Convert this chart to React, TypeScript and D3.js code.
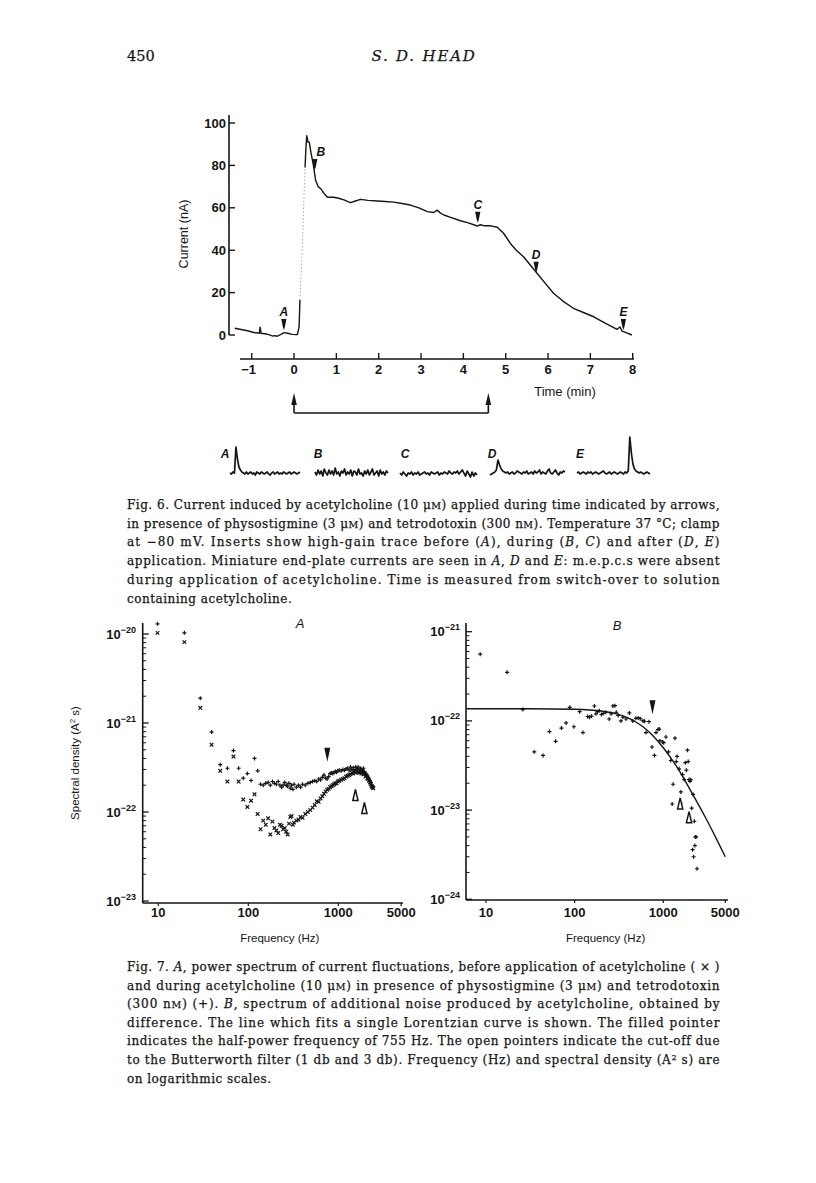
import React, { useEffect, useRef } from 'react';
import * as d3 from 'd3';

// ---------- Fig. 6: current trace ----------
const traceTime = [
  -1.40, -1.25, -1.10, -0.95, -0.82, -0.80, -0.78, -0.65, -0.50, -0.45,
  -0.40, -0.30, -0.24, -0.15, -0.05, 0.08, 0.12, 0.14, 0.17, 0.20,
  0.23, 0.26, 0.28, 0.30, 0.33, 0.36, 0.40, 0.45, 0.51, 0.57,
  0.63, 0.70, 0.79, 0.87, 0.94, 1.05, 1.18, 1.26, 1.34, 1.45,
  1.57, 1.75, 1.97, 2.15, 2.36, 2.55, 2.75, 2.95, 3.15, 3.30,
  3.38, 3.46, 3.54, 3.70, 3.93, 4.10, 4.33, 4.40, 4.50, 4.65,
  4.80, 4.95, 5.11, 5.25, 5.42, 5.58, 5.74, 5.95, 6.13, 6.35,
  6.60, 6.85, 7.08, 7.35, 7.63, 7.70, 7.75, 7.80, 7.98,
];
const traceCurrent = [
  3.2, 2.6, 2.0, 1.2, 0.8, 3.8, 0.8, 0.5, -0.5, -0.3,
  -0.6, 0.4, 1.1, 0.8, 0.3, 0.2, 4, 16.5, 30, 43,
  62, 79, 88, 94, 91, 91, 86, 81, 73, 70,
  69, 67, 65, 65, 65, 64.5, 63.7, 63, 62.4, 63.2,
  64, 63.5, 63.2, 63, 62.7, 62, 61.3, 60, 58.2, 57.8,
  58.9, 57.5, 56.6, 55.5, 53.9, 53, 51.4, 52, 51.5, 51.5,
  50.8, 48, 43.2, 40, 36.9, 33, 29.1, 24, 19.7, 16,
  12.6, 10.5, 8.6, 5.6, 2.7, 3.8, 1.8, 1.5, 0,
];
const markerLabels = ['A', 'B', 'C', 'D', 'E'];
const markerTime = [-0.24, 0.49, 4.34, 5.72, 7.78];
const markerCurrent = [2.4, 77.8, 53, 29.4, 2.4];
const currentTicks = [0, 20, 40, 60, 80, 100];
const timeTicks = [-1, 0, 1, 2, 3, 4, 5, 6, 7, 8];
const applicationTimes = [0, 4.59];

// high-gain inserts (arbitrary units)
const insertLabels = ['A', 'B', 'C', 'D', 'E'];
const insertA = [0, -1, 1, 0, 26, 14, 6, 3, 1, 0, -1, 1, -1, 0, 1, -1, 0, -2, 1, 0, -1, 1, 0, -1, 0, 1, -1, -2, 0, 1, -1, 0, 1, -1, 0, -1, 1, 0, -1, 0, 1, -1, 0, 1, 0, -1, 0, 1];
const insertB = [1, -2, 3, -1, 2, -3, 4, 0, -2, 3, -1, 2, -2, 5, -1, 1, -3, 2, 0, 4, -2, 1, -1, 3, -3, 2, 1, -2, 4, -1, 0, -3, 2, -1, 3, -2, 1, 4, -2, 0, 2, -3, 3, -1, 1, -2, 2, 0];
const insertC = [0, -2, 1, -1, -3, 0, -1, 1, -2, 0, -1, 1, -2, -1, 0, 1, -1, 0, -2, 1, 0, -1, 0, 1, -2, 0, -1, 1, 0, -1, 2, 0, -1, 1, 0, 2, -1, 1, 3, 0, -3, 2, -1, -4, 1, -3, 0, -2];
const insertD = [-2, -1, 0, 1, 3, 13, 8, 4, 2, 1, 0, 1, -1, 0, 1, -1, 0, 2, 1, 0, -1, 1, 0, 2, -1, 0, 1, -1, 2, 0, 1, 3, -1, 1, 0, -1, 2, 4, 0, -1, 1, 3, 0, -2, 1, 0, 2, 1];
const insertE = [0, 1, -1, 0, 1, 0, -1, 1, 0, 1, -1, 0, 1, 0, -1, 0, 1, 2, 0, -1, 0, 1, -1, 0, 1, 0, -1, 0, 1, 0, -1, 1, 0, 2, 36, 20, 9, 4, 2, 1, 0, 1, 0, -1, 0, 1, 0, -1];

// ---------- Fig. 7A: power spectra (x 1e-22 A^2 s) ----------
const freqA = [
  9.8, 19.5, 29.3, 39.1, 48.8, 58.6, 68.4, 78.1, 87.9, 97.7,
  107.4, 117.2, 127.0, 136.7, 146.5, 156.3, 166.0, 175.8, 185.5, 195.3,
  205.1, 214.8, 224.6, 234.4, 244.1, 253.9, 263.7, 273.4, 283.2, 293.0,
  302.7, 312.5, 322.3, 341.8, 361.3, 380.9, 400.4, 429.7, 458.9, 488.3,
  517.6, 546.9, 576.2, 605.5, 634.8, 664.1, 693.4, 722.7, 752.0, 781.3,
  810.5, 839.8, 869.1, 898.4, 927.7, 957.0, 986.3, 1025, 1074, 1123,
  1172, 1221, 1270, 1318, 1367, 1416, 1465, 1514, 1562, 1611,
  1660, 1709, 1758, 1807, 1855, 1904, 1953, 2002, 2051, 2100,
  2148, 2197, 2246, 2295, 2344, 2393, 2441,
];
const plusA = [
  130, 103, 19, 7.9, 3.4, 3.1, 4.9, 3.1, 2.4, 2.7,
  2.26, 4.0, 2.9, 2.05, 2.0, 2.1, 2.15, 2.0, 2.2, 2.1,
  2.05, 2.2, 2.0, 1.9, 2.0, 2.15, 2.0, 1.95, 2.1, 1.85,
  2.0, 1.8, 2.05, 1.9, 2.0, 1.9, 2.05, 2.0, 2.1, 2.15,
  2.2, 2.25, 2.2, 2.35, 2.3, 2.45, 2.6, 2.4, 2.35, 2.5,
  2.7, 2.75, 2.7, 2.8, 2.85, 2.8, 2.9, 2.95, 2.9, 3.0,
  2.95, 3.05, 3.1, 2.95, 3.2, 3.0, 3.15, 2.9, 3.2, 3.05,
  3.2, 2.95, 3.1, 3.0, 2.9, 3.1, 2.85, 2.7, 2.65, 2.55,
  2.45, 2.35, 2.25, 2.15, 2.0, 1.95, 1.9,
];
const crossA = [
  103, 81, 14.8, 5.7, 2.9, 2.2, 4.2, 2.2, 1.38, 1.14,
  1.34, 1.58, 0.95, 0.64, 0.8, 0.72, 0.85, 0.56, 0.78, 0.66,
  0.62, 0.58, 0.72, 0.7, 0.64, 0.66, 0.6, 0.56, 0.74, 0.88,
  0.9, 0.72, 0.76, 0.8, 0.82, 0.88, 0.86, 0.95, 1.0, 1.05,
  1.12, 1.2, 1.32, 1.3, 1.42, 1.5, 1.6, 1.7, 1.78, 1.82,
  1.9, 1.95, 2.0, 2.05, 2.1, 2.1, 2.2, 2.25, 2.3, 2.35,
  2.4, 2.5, 2.55, 2.6, 2.65, 2.75, 2.7, 2.85, 2.75, 2.9,
  2.8, 2.75, 2.85, 2.7, 2.8, 2.65, 2.7, 2.5, 2.55, 2.4,
  2.35, 2.25, 2.15, 2.05, 1.95, 1.9, 1.85,
];

// ---------- Fig. 7B: difference spectrum (x 1e-22 A^2 s) ----------
const freqB = [
  8.6, 17.3, 26, 35, 44, 52, 61, 71, 80, 88,
  98, 114, 124, 140, 147, 155, 167, 174, 181, 190,
  200, 210, 225, 245, 258, 270, 285, 295, 310, 333,
  350, 380, 414, 452, 490, 520, 550, 590, 615, 638,
  690, 746, 795, 828, 870, 900, 915, 980, 1010, 1070,
  1145, 1215, 1260, 1290, 1355, 1400, 1430, 1510, 1560, 1580,
  1650, 1720, 1770, 1820, 1875, 1910, 1950, 2000, 2040, 2090,
  2140, 2170, 2200, 2240, 2270, 2300, 2340, 2400,
];
const plusB = [
  5.6, 3.5, 1.34, 0.45, 0.41, 0.76, 0.59, 0.83, 0.95, 1.42,
  0.86, 1.27, 0.74, 1.12, 1.1, 1.13, 1.47, 1.2, 1.27, 1.3,
  1.18, 1.21, 1.25, 1.05, 1.2, 1.47, 1.48, 1.25, 1.15, 1.0,
  1.1, 1.05, 1.23, 1.0, 1.07, 1.08, 1.06, 1.0, 0.99, 0.74,
  0.98, 0.51, 0.41, 0.74, 0.8, 0.81, 0.6, 0.58, 0.57, 0.66,
  0.45, 0.36, 0.117, 0.195, 0.64, 0.35, 0.40, 0.29, 0.12, 0.16,
  0.25, 0.22, 0.34, 0.28, 0.47, 0.35, 0.22, 0.21, 0.22, 0.105,
  0.036, 0.15, 0.03, 0.075, 0.04, 0.05, 0.05, 0.022,
];
// Lorentzian fit line
const fitFreq = [6, 30, 100, 200, 300, 400, 500, 600, 755, 1000, 1500, 2000, 3000, 4000, 5000];
const fitDensity = [1.37, 1.37, 1.35, 1.29, 1.2, 1.08, 0.96, 0.85, 0.69, 0.50, 0.28, 0.17, 0.082, 0.047, 0.030];

const freqTicks = [10, 100, 1000, 5000];
const halfPowerFreq = 755;
const filterFreqs = [1550, 1950];

// ---------- captions (_italic_, ~small caps~, ^superscript^) ----------
const fig6Caption = [
  'Fig. 6. Current induced by acetylcholine (10 μ~M~) applied during time indicated by arrows,',
  'in presence of physostigmine (3 μ~M~) and tetrodotoxin (300 n~M~). Temperature 37 °C; clamp',
  'at −80 mV. Inserts show high-gain trace before (_A_), during (_B_, _C_) and after (_D_, _E_)',
  'application. Miniature end-plate currents are seen in _A_, _D_ and _E_: m.e.p.c.s were absent',
  'during application of acetylcholine. Time is measured from switch-over to solution',
  'containing acetylcholine.',
];
const fig7Caption = [
  'Fig. 7. _A_, power spectrum of current fluctuations, before application of acetylcholine ( × )',
  'and during acetylcholine (10 μ~M~) in presence of physostigmine (3 μ~M~) and tetrodotoxin',
  '(300 n~M~) (+). _B_, spectrum of additional noise produced by acetylcholine, obtained by',
  'difference. The line which fits a single Lorentzian curve is shown. The filled pointer',
  'indicates the half-power frequency of 755 Hz. The open pointers indicate the cut-off due',
  'to the Butterworth filter (1 db and 3 db). Frequency (Hz) and spectral density (A^2^ s) are',
  'on logarithmic scales.',
];

const W = 816;
const H = 1183;
const SANS = '"Liberation Sans", Arial, Helvetica, sans-serif';
const SERIF = '"DejaVu Serif", serif';
const INK = '#151515';

function richText(sel: any, str: string) {
  const parts = str.split(/(_[^_]+_|~[^~]+~|\^[^^]+\^)/).filter((s) => s.length > 0);
  let raised = false;
  parts.forEach((p) => {
    const t = sel.append('tspan');
    if (raised) { t.attr('dy', 4); raised = false; }
    if (p[0] === '_') t.style('font-style', 'italic').text(p.slice(1, -1));
    else if (p[0] === '~') t.style('font-size', '9.5px').text(p.slice(1, -1));
    else if (p[0] === '^') { t.attr('dy', -4).style('font-size', '8px').text(p.slice(1, -1)); raised = true; }
    else t.text(p);
  });
}

const App = () => {
  const svgRef = useRef<SVGSVGElement>(null);

  useEffect(() => {
    const svg = d3.select(svgRef.current);
    svg.selectAll('*').remove();

    // running head
    svg.append('text').attr('x', 127).attr('y', 61)
      .style('font-family', SERIF).style('font-size', '14.5px').style('fill', INK)
      .style('stroke', INK).style('stroke-width', 0.25).text('450');
    svg.append('text').attr('x', 424).attr('y', 61).attr('text-anchor', 'middle')
      .style('font-family', SERIF).style('font-size', '15px').style('font-style', 'italic')
      .style('letter-spacing', '1.8px').style('fill', INK)
      .style('stroke', INK).style('stroke-width', 0.25).text('S. D. HEAD');

    // ================= Fig. 6 =================
    const x6 = d3.scaleLinear().domain([-1, 8]).range([251.7, 632.7]);
    const y6 = d3.scaleLinear().domain([0, 100]).range([335, 123]);
    const g6 = svg.append('g');

    // current axis
    g6.append('line').attr('x1', 229).attr('x2', 229).attr('y1', 115).attr('y2', y6(0))
      .attr('stroke', INK).attr('stroke-width', 1.6);
    currentTicks.forEach((v) => {
      g6.append('line').attr('x1', 229).attr('x2', 235).attr('y1', y6(v)).attr('y2', y6(v))
        .attr('stroke', INK).attr('stroke-width', 1.4);
      g6.append('text').attr('x', 226).attr('y', y6(v) + 4.5).attr('text-anchor', 'end')
        .style('font-family', SANS).style('font-size', '13px').style('font-weight', 'bold')
        .style('fill', INK).text(v);
    });
    g6.append('text').attr('transform', `translate(188,234) rotate(-90)`).attr('text-anchor', 'middle')
      .style('font-family', SANS).style('font-size', '12.5px').style('fill', INK).text('Current (nA)');

    // time axis
    const axisY = 359;
    g6.append('line').attr('x1', 240).attr('x2', 634).attr('y1', axisY).attr('y2', axisY)
      .attr('stroke', INK).attr('stroke-width', 1.6);
    timeTicks.forEach((t) => {
      g6.append('line').attr('x1', x6(t)).attr('x2', x6(t)).attr('y1', axisY).attr('y2', axisY - 6)
        .attr('stroke', INK).attr('stroke-width', 1.4);
      g6.append('text').attr('x', x6(t) - (t < 0 ? 3 : 0)).attr('y', axisY + 15).attr('text-anchor', 'middle')
        .style('font-family', SANS).style('font-size', '13px').style('font-weight', 'bold')
        .style('fill', INK).text(t < 0 ? `−${-t}` : t);
    });
    g6.append('text').attr('x', 565).attr('y', 396).attr('text-anchor', 'middle')
      .style('font-family', SANS).style('font-size', '13px').style('fill', INK).text('Time (min)');

    // application bar
    const barY = 413;
    g6.append('line').attr('x1', x6(applicationTimes[0])).attr('x2', x6(applicationTimes[1]))
      .attr('y1', barY).attr('y2', barY).attr('stroke', INK).attr('stroke-width', 1.6);
    applicationTimes.forEach((t) => {
      const x = x6(t);
      g6.append('line').attr('x1', x).attr('x2', x).attr('y1', barY).attr('y2', 400)
        .attr('stroke', INK).attr('stroke-width', 1.6);
      g6.append('path').attr('d', `M${x},393 L${x + 2.8},405 L${x - 2.8},405 Z`).attr('fill', INK);
    });

    // trace
    const pts = traceTime.map((t, i) => [x6(t), y6(traceCurrent[i])] as [number, number]);
    const line6 = d3.line().curve(d3.curveLinear);
    g6.append('path').attr('d', line6(pts.slice(0, 18))).attr('fill', 'none')
      .attr('stroke', INK).attr('stroke-width', 1.4);
    g6.append('path').attr('d', line6(pts.slice(17, 22))).attr('fill', 'none')
      .attr('stroke', '#aaa').attr('stroke-width', 1).attr('stroke-dasharray', '1.5 2');
    g6.append('path').attr('d', line6(pts.slice(21))).attr('fill', 'none')
      .attr('stroke', INK).attr('stroke-width', 1.4).attr('stroke-linejoin', 'round');

    // A–E pointers on trace
    markerLabels.forEach((lab, i) => {
      const x = x6(markerTime[i]);
      const y = y6(markerCurrent[i]);
      g6.append('path').attr('d', `M${x - 2.6},${y - 11} L${x + 2.6},${y - 11} L${x + 1},${y - 3} L${x},${y} L${x - 1},${y - 3} Z`)
        .attr('fill', INK);
      g6.append('text').attr('x', x + (i === 1 ? 6 : 0)).attr('y', y - 14).attr('text-anchor', 'middle')
        .style('font-family', SANS).style('font-size', '12px').style('font-style', 'italic')
        .style('font-weight', 'bold').style('fill', INK).text(lab);
    });

    // high-gain inserts
    const inserts = [insertA, insertB, insertC, insertD, insertE];
    const insertX = [[230, 300], [315, 388], [400, 477], [490, 565], [577, 650]];
    const labelX = [225, 318, 405, 492, 580];
    const yIns = d3.scaleLinear().domain([0, 40]).range([473, 433]);
    inserts.forEach((vals, k) => {
      const xs = d3.scaleLinear().domain([0, vals.length - 1]).range(insertX[k]);
      const ln = d3.line<number>().x((_, i) => xs(i)).y((d) => yIns(d));
      g6.append('path').attr('d', ln(vals)).attr('fill', 'none').attr('stroke', INK)
        .attr('stroke-width', 1.7).attr('stroke-linejoin', 'round');
      g6.append('text').attr('x', labelX[k]).attr('y', 458).attr('text-anchor', 'middle')
        .style('font-family', SANS).style('font-size', '12px').style('font-style', 'italic')
        .style('font-weight', 'bold').style('fill', INK).text(insertLabels[k]);
    });

    // captions
    const drawCaption = (lines: string[], y0: number, dy: number) => {
      lines.forEach((str, i) => {
        const t = svg.append('text').attr('x', 127).attr('y', y0 + i * dy)
          .style('font-family', SERIF).style('font-size', '12px').style('letter-spacing', '0.5px')
          .style('fill', INK).style('stroke', INK).style('stroke-width', 0.25);
        if (i < lines.length - 1) t.attr('textLength', 593).attr('lengthAdjust', 'spacing');
        richText(t, str);
      });
    };
    drawCaption(fig6Caption, 509, 18.7);
    drawCaption(fig7Caption, 971, 18.6);

    // ================= Fig. 7 helpers =================
    const decadeLabel = (g: any, x: number, y: number, exp: number) => {
      const t = g.append('text').attr('x', x).attr('y', y + 4.5).attr('text-anchor', 'end')
        .style('font-family', SANS).style('font-size', '13px').style('font-weight', 'bold').style('fill', INK);
      t.append('tspan').text('10');
      t.append('tspan').attr('dy', -6).style('font-size', '9px').text(`−${-exp}`);
    };

    const drawSpectrumAxes = (
      g: any, xs: any, ys: any, axisX: number, axisTop: number, axisBottom: number,
      axisRight: number, exps: number[], labelRight: number,
    ) => {
      g.append('line').attr('x1', axisX).attr('x2', axisX).attr('y1', axisTop).attr('y2', axisBottom)
        .attr('stroke', INK).attr('stroke-width', 1.6);
      g.append('line').attr('x1', axisX).attr('x2', axisRight).attr('y1', axisBottom).attr('y2', axisBottom)
        .attr('stroke', INK).attr('stroke-width', 1.6);
      exps.forEach((e, i) => {
        const y = ys(Math.pow(10, e));
        g.append('line').attr('x1', axisX).attr('x2', axisX + 6).attr('y1', y).attr('y2', y)
          .attr('stroke', INK).attr('stroke-width', 1.3);
        decadeLabel(g, labelRight, y, e);
        if (i < exps.length - 1) {
          for (let k = 2; k <= 9; k++) {
            const ym = ys(k * Math.pow(10, e));
            g.append('line').attr('x1', axisX).attr('x2', axisX + 3.5).attr('y1', ym).attr('y2', ym)
              .attr('stroke', INK).attr('stroke-width', 1);
          }
        }
      });
      freqTicks.forEach((f) => {
        g.append('line').attr('x1', xs(f)).attr('x2', xs(f)).attr('y1', axisBottom).attr('y2', axisBottom + 3)
          .attr('stroke', INK).attr('stroke-width', 1.2);
        g.append('text').attr('x', xs(f)).attr('y', 917).attr('text-anchor', 'middle')
          .style('font-family', SANS).style('font-size', '13px').style('font-weight', 'bold')
          .style('fill', INK).text(f);
      });
      g.append('text').attr('x', (xs(10) + xs(5000)) / 2).attr('y', 942)
        .attr('text-anchor', 'middle').style('font-family', SANS).style('font-size', '11.5px')
        .style('fill', INK).text('Frequency (Hz)');
    };

    const plus = (g: any, x: number, y: number) =>
      g.append('path').attr('d', `M${x - 2},${y} h4 M${x},${y - 2} v4`).attr('stroke', INK).attr('stroke-width', 1.2);
    const cross = (g: any, x: number, y: number) =>
      g.append('path').attr('d', `M${x - 1.8},${y - 1.8} l3.6,3.6 M${x + 1.8},${y - 1.8} l-3.6,3.6`)
        .attr('stroke', INK).attr('stroke-width', 1.2);
    const filledPointer = (g: any, x: number, yTip: number) =>
      g.append('path').attr('d', `M${x - 3},${yTip - 14} L${x + 3},${yTip - 14} L${x},${yTip} Z`).attr('fill', INK);
    const openPointer = (g: any, x: number, yTip: number) =>
      g.append('path').attr('d', `M${x},${yTip} L${x + 2.6},${yTip + 11} L${x - 2.6},${yTip + 11} Z`)
        .attr('fill', '#fff').attr('stroke', INK).attr('stroke-width', 1.5).attr('stroke-linejoin', 'miter');

    // ================= Fig. 7A =================
    const xA = d3.scaleLog().domain([10, 1000]).range([158.3, 338.3]);
    const yA = d3.scaleLog().domain([1e-23, 1e-20]).range([901, 634]);
    const gA = svg.append('g');
    drawSpectrumAxes(gA, xA, yA, 142.7, 623, 903, 403, [-23, -22, -21, -20], 136);
    gA.append('text').attr('transform', 'translate(79,763) rotate(-90)').attr('text-anchor', 'middle')
      .style('font-family', SANS).style('font-size', '11.5px').style('fill', INK)
      .call((t: any) => {
        t.append('tspan').text('Spectral density (A');
        t.append('tspan').attr('dy', -4).style('font-size', '8px').text('2');
        t.append('tspan').attr('dy', 4).text(' s)');
      });
    gA.append('text').attr('x', 300).attr('y', 628).attr('text-anchor', 'middle')
      .style('font-family', SANS).style('font-size', '13px').style('font-style', 'italic').style('fill', INK).text('A');
    freqA.forEach((f, i) => {
      cross(gA, xA(f), yA(crossA[i] * 1e-22));
      plus(gA, xA(f), yA(plusA[i] * 1e-22));
    });
    filledPointer(gA, xA(halfPowerFreq), yA(3.68e-22));
    openPointer(gA, xA(filterFreqs[0]), yA(1.79e-22));
    openPointer(gA, xA(filterFreqs[1]), yA(1.28e-22));

    // ================= Fig. 7B =================
    const xB = d3.scaleLog().domain([10, 1000]).range([486, 663.3]);
    const yB = d3.scaleLog().domain([1e-24, 1e-21]).range([899.3, 631.7]);
    const gB = svg.append('g');
    drawSpectrumAxes(gB, xB, yB, 466, 623, 900, 728, [-24, -23, -22, -21], 460);
    gB.append('text').attr('x', 617).attr('y', 630).attr('text-anchor', 'middle')
      .style('font-family', SANS).style('font-size', '13px').style('font-style', 'italic').style('fill', INK).text('B');
    const fitLine = d3.line<number>().curve(d3.curveMonotoneX)
      .x((f) => xB(f)).y((_, i) => yB(fitDensity[i] * 1e-22));
    gB.append('path').attr('d', fitLine(fitFreq)).attr('fill', 'none').attr('stroke', INK).attr('stroke-width', 1.4);
    freqB.forEach((f, i) => plus(gB, xB(f), yB(plusB[i] * 1e-22)));
    filledPointer(gB, xB(halfPowerFreq), yB(1.19e-22));
    openPointer(gB, xB(filterFreqs[0]), yB(1.37e-23));
    openPointer(gB, xB(filterFreqs[1]), yB(0.96e-23));
  }, []);

  return (
    <svg ref={svgRef} width={W} height={H}
      style={{ position: 'absolute', left: 0, top: 0, display: 'block', background: '#fff' }} />
  );
};

export default App;
